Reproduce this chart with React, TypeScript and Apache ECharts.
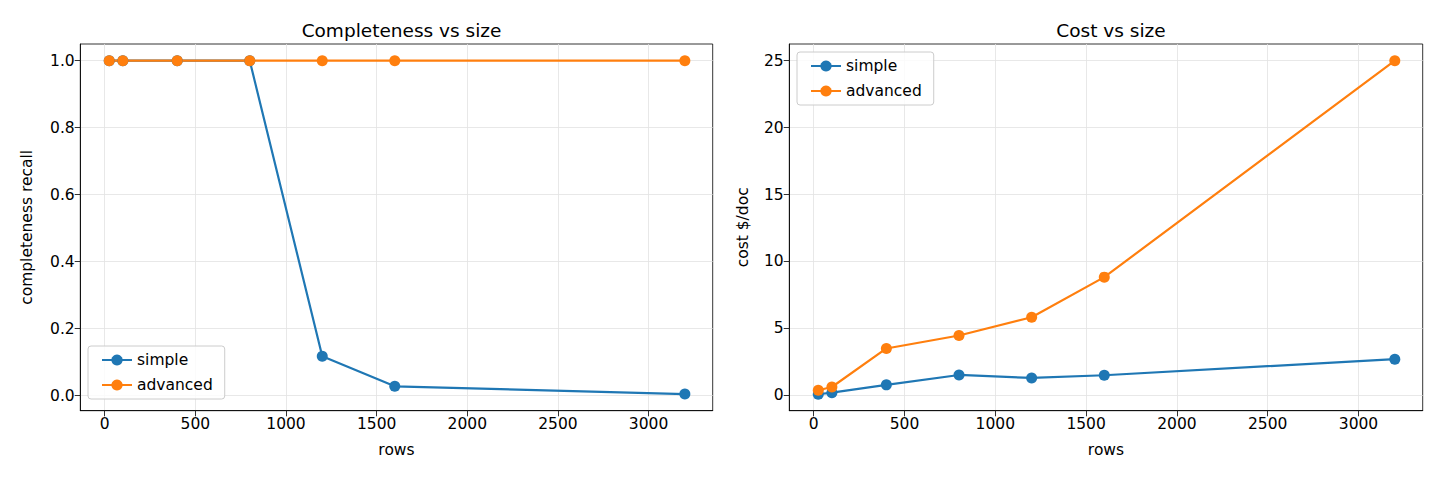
import React, { useEffect, useRef } from "react";
import * as echarts from "echarts";

const rows = [25, 100, 400, 800, 1200, 1600, 3200];
const completenessSimple = [1.0, 1.0, 1.0, 1.0, 0.118, 0.028, 0.005];
const completenessAdvanced = [1.0, 1.0, 1.0, 1.0, 1.0, 1.0, 1.0];
const costSimple = [0.08, 0.2, 0.78, 1.52, 1.3, 1.5, 2.7];
const costAdvanced = [0.38, 0.62, 3.5, 4.47, 5.83, 8.83, 25.0];
const xTicks = [0, 500, 1000, 1500, 2000, 2500, 3000];
const yTicksLeft = [0, 0.2, 0.4, 0.6, 0.8, 1.0];
const yTicksRight = [0, 5, 10, 15, 20, 25];
const seriesNames = ["simple", "advanced"];
const colors = ["#1f77b4", "#ff7f0e"];

const FONT = "DejaVu Sans";

function pairs(xs: number[], ys: number[]) {
  return xs.map((x, i) => [x, ys[i]]);
}

export default function App() {
  const ref = useRef<HTMLDivElement>(null);
  useEffect(() => {
    if (!ref.current) return;
    const chart = echarts.init(ref.current, undefined, { renderer: "svg" });

    const tickStyle = {
      show: true,
      inside: false,
      length: 5.6,
      lineStyle: { color: "#000", width: 0.8 },
    };
    const axisLine = { show: true, onZero: false, lineStyle: { color: "#000", width: 0.8 } };
    const splitLine = { show: true, lineStyle: { color: "#e2e2e2", width: 0.8 } };
    const labelStyle = { color: "#000", fontSize: 15.5, fontFamily: FONT, margin: 5.6 };

    const xAxis = (gridIndex: number) => ({
      type: "value",
      gridIndex,
      min: -134.6,
      max: 3353.6,
      name: "rows",
      nameLocation: "middle",
      nameGap: 31,
      nameTextStyle: { color: "#000", fontSize: 15.5, fontFamily: FONT },
      axisLine,
      axisTick: { ...tickStyle, customValues: xTicks },
      axisLabel: { ...labelStyle, customValues: xTicks, formatter: (v: number) => String(v) },
      splitLine,
    });

    const legendBase = {
      orient: "vertical",
      data: seriesNames,
      itemWidth: 30,
      itemHeight: 14,
      itemGap: 9,
      itemTextGap: 17,
      padding: [6, 12, 6, 13],
      backgroundColor: "rgba(255,255,255,0.8)",
      borderColor: "#cccccc",
      borderWidth: 1,
      borderRadius: 3,
      textStyle: { color: "#000", fontSize: 15.5, fontFamily: FONT, lineHeight: 16 },
      selectedMode: false,
    };

    const mkSeries = (name: string, data: number[][], idx: number, colorIdx: number) => ({
      name,
      type: "line",
      xAxisIndex: idx,
      yAxisIndex: idx,
      data,
      symbol: "circle",
      symbolSize: 11,
      showSymbol: true,
      lineStyle: { color: colors[colorIdx], width: 2.2 },
      itemStyle: { color: colors[colorIdx] },
      emphasis: { disabled: true },
    });

    chart.setOption({
      animation: false,
      backgroundColor: "#fff",
      textStyle: { fontFamily: FONT },
      title: [
        {
          text: "Completeness vs size",
          left: 396.5,
          top: 16,
          textAlign: "center",
          textStyle: { color: "#000", fontSize: 18.5, fontWeight: "normal", fontFamily: FONT },
        },
        {
          text: "Cost vs size",
          left: 1106,
          top: 16,
          textAlign: "center",
          textStyle: { color: "#000", fontSize: 18.5, fontWeight: "normal", fontFamily: FONT },
        },
      ],
      legend: [
        { ...legendBase, left: 88, top: 346 },
        { ...legendBase, left: 797, top: 52 },
      ],
      grid: [
        { left: 80.3, top: 44, width: 632.4, height: 366.7, show: true, borderColor: "#000", borderWidth: 0.8, backgroundColor: "transparent" },
        { left: 789.3, top: 44, width: 633.4, height: 366.7, show: true, borderColor: "#000", borderWidth: 0.8, backgroundColor: "transparent" },
      ],
      xAxis: [xAxis(0), xAxis(1)],
      yAxis: [
        {
          type: "value",
          gridIndex: 0,
          min: -0.0447,
          max: 1.0497,
          name: "completeness recall",
          nameLocation: "middle",
          nameGap: 45,
          nameRotate: 90,
          nameTextStyle: { color: "#000", fontSize: 15.5, fontFamily: FONT },
          axisLine,
          axisTick: { ...tickStyle, customValues: yTicksLeft },
          axisLabel: { ...labelStyle, customValues: yTicksLeft, formatter: (v: number) => v.toFixed(1) },
          splitLine,
        },
        {
          type: "value",
          gridIndex: 1,
          min: -1.15,
          max: 26.25,
          name: "cost $/doc",
          nameLocation: "middle",
          nameGap: 38,
          nameRotate: 90,
          nameTextStyle: { color: "#000", fontSize: 15.5, fontFamily: FONT },
          axisLine,
          axisTick: { ...tickStyle, customValues: yTicksRight },
          axisLabel: { ...labelStyle, customValues: yTicksRight, formatter: (v: number) => String(v) },
          splitLine,
        },
      ],
      series: [
        mkSeries("simple", pairs(rows, completenessSimple), 0, 0),
        mkSeries("advanced", pairs(rows, completenessAdvanced), 0, 1),
        mkSeries("simple", pairs(rows, costSimple), 1, 0),
        mkSeries("advanced", pairs(rows, costAdvanced), 1, 1),
      ],
    });
    return () => chart.dispose();
  }, []);
  return (
    <div
      ref={ref}
      style={{ position: "fixed", left: 0, top: 0, width: 1440, height: 480 }}
    />
  );
}
